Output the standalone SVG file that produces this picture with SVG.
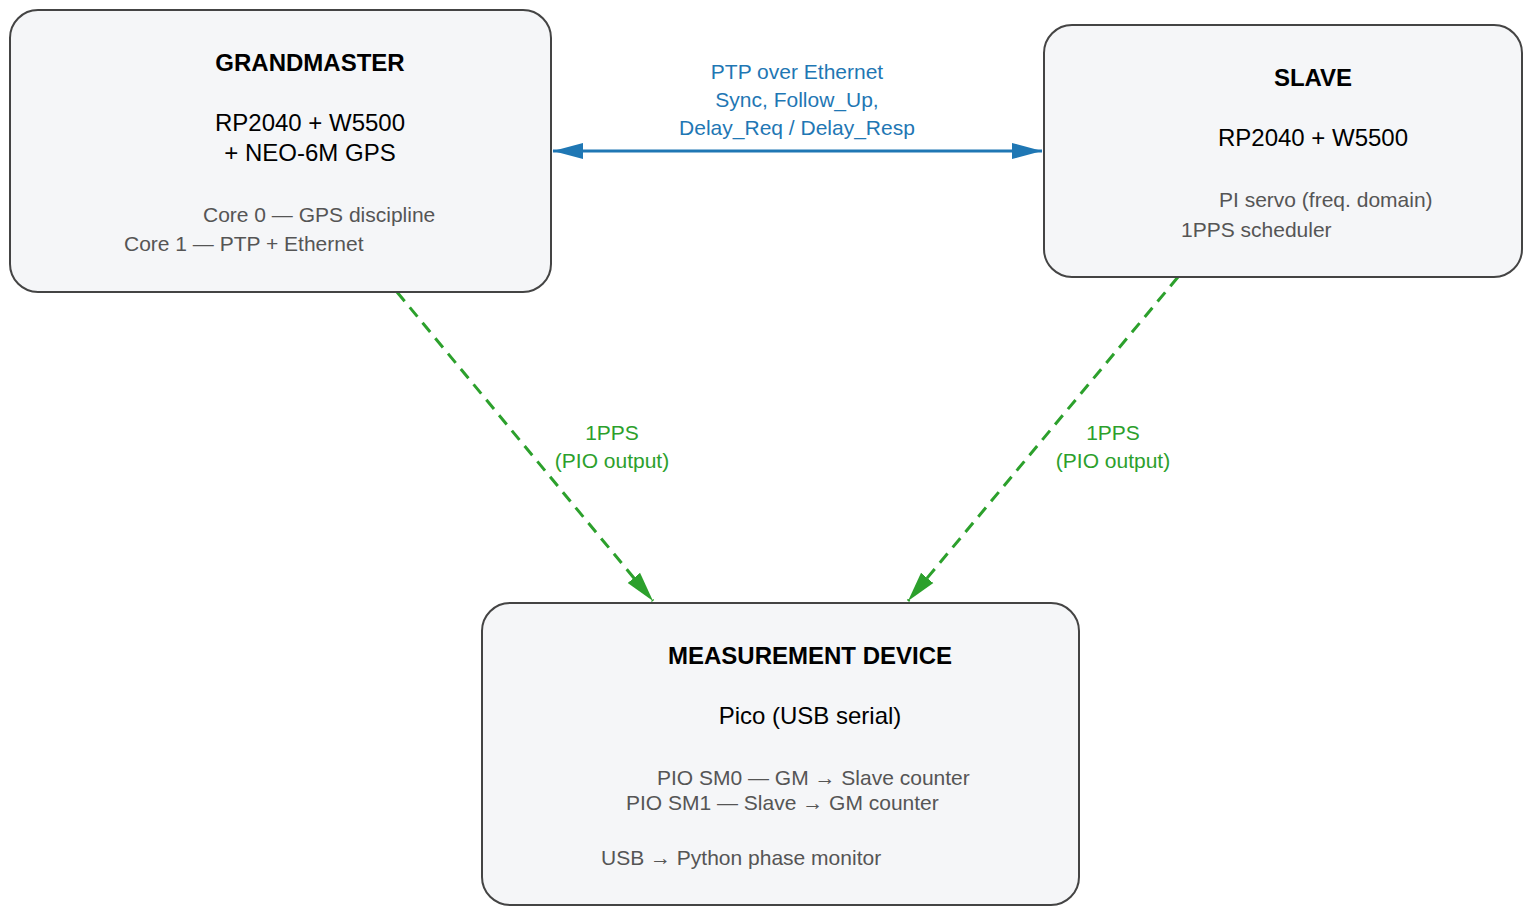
<svg xmlns="http://www.w3.org/2000/svg" width="1532" height="915" viewBox="0 0 1532 915">
<defs>
<style>
.box{fill:#f5f6f8;stroke:#444;stroke-width:2}
text{font-family:"Liberation Sans",Arial,sans-serif}
.t{font-size:24px;font-weight:bold;fill:#000;text-anchor:middle}
.m{font-size:24px;fill:#000;text-anchor:middle}
.s{font-size:21px;fill:#555}
.lb{font-size:21px;fill:#1f77b4;text-anchor:middle}
.lg{font-size:21px;fill:#2ca02c;text-anchor:middle}
</style>
<marker id="ab" viewBox="0 0 10 10" refX="10" refY="5" markerWidth="10" markerHeight="7" markerUnits="userSpaceOnUse" orient="auto-start-reverse" style="overflow:visible"><path d="M0,0 L10,5 L0,10 z" fill="#1f77b4" transform="scale(3,1.7) translate(0,-2.05)"/></marker>
<marker id="ag" viewBox="0 0 30 20" refX="30" refY="10" markerWidth="30" markerHeight="20" markerUnits="userSpaceOnUse" orient="auto"><path d="M0,2 L30,10 L0,18 z" fill="#2ca02c"/></marker>
<marker id="ab2" viewBox="0 0 30 20" refX="30" refY="10" markerWidth="30" markerHeight="20" markerUnits="userSpaceOnUse" orient="auto-start-reverse"><path d="M0,2 L30,10 L0,18 z" fill="#1f77b4"/></marker>
</defs>
<g id="connectors">
<line x1="553" y1="151" x2="1042" y2="151" stroke="#1f77b4" stroke-width="3" marker-start="url(#ab2)" marker-end="url(#ab2)"/>
<text class="lb" x="797" y="79">PTP over Ethernet</text>
<text class="lb" x="797" y="107">Sync, Follow_Up,</text>
<text class="lb" x="797" y="135">Delay_Req / Delay_Resp</text>
<line x1="397" y1="292" x2="653" y2="601" stroke="#2ca02c" stroke-width="3" stroke-dasharray="12,8" marker-end="url(#ag)"/>
<text class="lg" x="612" y="440">1PPS</text>
<text class="lg" x="612" y="468">(PIO output)</text>
<line x1="1178" y1="277" x2="908" y2="601" stroke="#2ca02c" stroke-width="3" stroke-dasharray="12,8" marker-end="url(#ag)"/>
<text class="lg" x="1113" y="440">1PPS</text>
<text class="lg" x="1113" y="468">(PIO output)</text>
</g>
<g id="grandmaster">
<rect class="box" x="10" y="10" width="541" height="282" rx="28"/>
<text class="t" x="310" y="71">GRANDMASTER</text>
<text class="m" x="310" y="131">RP2040 + W5500</text>
<text class="m" x="310" y="161">+ NEO-6M GPS</text>
<text class="s" x="203" y="222">Core 0 — GPS discipline</text>
<text class="s" x="124" y="251">Core 1 — PTP + Ethernet</text>
</g>
<g id="slave">
<rect class="box" x="1044" y="25" width="478" height="252" rx="28"/>
<text class="t" x="1313" y="86">SLAVE</text>
<text class="m" x="1313" y="146">RP2040 + W5500</text>
<text class="s" x="1219" y="207">PI servo (freq. domain)</text>
<text class="s" x="1181" y="237">1PPS scheduler</text>
</g>
<g id="measurement">
<rect class="box" x="482" y="603" width="597" height="302" rx="28"/>
<text class="t" x="810" y="664">MEASUREMENT DEVICE</text>
<text class="m" x="810" y="724">Pico (USB serial)</text>
<text class="s" x="657" y="785">PIO SM0 — GM → Slave counter</text>
<text class="s" x="626" y="810">PIO SM1 — Slave → GM counter</text>
<text class="s" x="601" y="865">USB → Python phase monitor</text>
</g>
</svg>
